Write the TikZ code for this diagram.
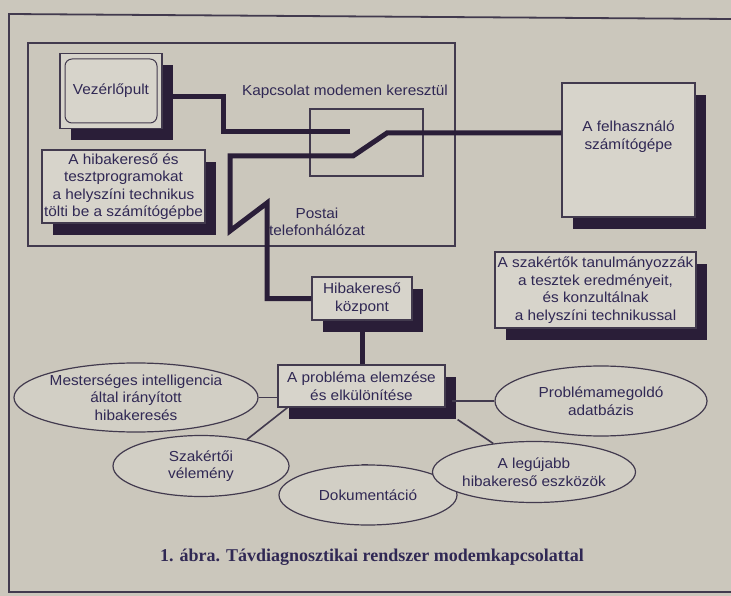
\documentclass[tikz,border=0pt]{standalone}
\usepackage{fontspec}
\setmainfont{Liberation Sans}[FakeStretch=1.06]
\newfontfamily\capfont{Liberation Serif}
\usetikzlibrary{shapes,shadows,calc}

\definecolor{paper}{RGB}{203,199,188}
\definecolor{boxfill}{RGB}{215,212,203}
\definecolor{shade}{RGB}{42,30,56}
\definecolor{ink}{RGB}{48,40,84}
\definecolor{edge}{RGB}{66,58,78}

\begin{document}
\begin{tikzpicture}[x=1pt,y=-1pt,
    every node/.style={font=\fontsize{14.5}{17.5}\selectfont, text=ink, align=center, inner sep=0pt},
    box/.style={draw=edge, fill=boxfill, line width=1.2pt,
      drop shadow={shadow xshift=11pt, shadow yshift=-12pt, fill=shade, opacity=1}},
    oval/.style={ellipse, draw=edge, fill=boxfill!60!paper, line width=1.2pt},
    cable/.style={draw=shade, line width=5pt},
    link/.style={draw=edge, line width=1.6pt},
    thin/.style={draw=edge, line width=1.2pt}]
  \useasboundingbox (0,0) rectangle (731,596);
  \fill[paper] (0,0) rectangle (731,596);
  % frame of the page and of the local site
  \draw[edge, line width=1.8pt] (731,19) -- (9,14) -- (9,592) -- (731,592);
  \draw[thin] (28,43) rectangle (455,246);

  % local site
  \node[box, minimum width=102, minimum height=75] (vez) at (111,91) {};
  \node[draw=edge, line width=1pt, rounded corners=7pt, minimum width=92, minimum height=64] (scr) at (vez.center) {Vezérlőpult};
  \node[box, minimum width=163, minimum height=73] (prog) at (123.5,186.5)
    {A hibakereső és\\tesztprogramokat\\a helyszíni technikus\\tölti be a számítógépbe};
  \node[thin, minimum width=113, minimum height=67] (modem) at (366.5,142.5) {};
  \node (kapcs) at (345,92) {Kapcsolat modemen keresztül};
  \node (postai) at (317,222) {Postai\\telefonhálózat};

  % user and centre
  \node[box, minimum width=133, minimum height=134] (fel) at (628.5,150)
    {A felhasználó\\számítógépe\\[12pt]};
  \node[box, minimum width=201, minimum height=76] (szak) at (595.5,290)
    {A szakértők tanulmányozzák\\a tesztek eredményeit,\\és konzultálnak\\a helyszíni technikussal};
  \node[box, minimum width=100, minimum height=43] (kozp) at (362,298.5) {Hibakereső\\központ};
  \node[box, minimum width=167, minimum height=42] (prob) at (361.5,386)
    {A probléma elemzése\\és elkülönítése};

  % the resources
  \node[oval, minimum width=208, minimum height=69] (mi) at (136,397.5)
    {Mesterséges intelligencia\\által irányított\\hibakeresés};
  \node[oval, minimum width=176, minimum height=61] (szv) at (201,466) {Szakértői\\vélemény};
  \node[oval, minimum width=178, minimum height=60] (dok) at (368,495) {Dokumentáció};
  \node[oval, minimum width=180, minimum height=61] (leg) at (534,472)
    {A legújabb\\hibakereső eszközök};
  \node[oval, minimum width=212, minimum height=70] (adat) at (601,401)
    {Problémamegoldó\\adatbázis};

  % modem lines
  \coordinate (sw1) at (350,132);
  \coordinate (sw2) at (353,156);
  \coordinate (sw3) at (387,133);
  \coordinate (z1) at (230,231);
  \coordinate (z2) at (267,203);
  \draw[cable] ([yshift=-6pt]vez.east) -- ++(61,0) |- (sw1);
  \draw[cable] (fel.west |- sw3) -- (sw3) -- (sw2) -- (sw2 -| z1) -- (z1) -- (z2) |- (kozp.west);
  \draw[cable] (kozp.south) -- (kozp.south |- prob.north);

  % links to the resources
  \draw[link] (mi.east) -- (mi.east -| prob.west);
  \draw[link] (adat.west) -- ++(-42,0);
  \draw[link] ([xshift=10pt]prob.south west) -- (szv.30);
  \draw[link] (dok.north -| prob.south) -- (dok.north);
  \draw[link] ([xshift=12pt,yshift=-12pt]prob.south east) -- (leg.145);

  \node[font=\capfont\bfseries\fontsize{18}{20}\selectfont] (cap) at (372,557)
    {1. ábra. Távdiagnosztikai rendszer modemkapcsolattal};
\end{tikzpicture}
\end{document}
